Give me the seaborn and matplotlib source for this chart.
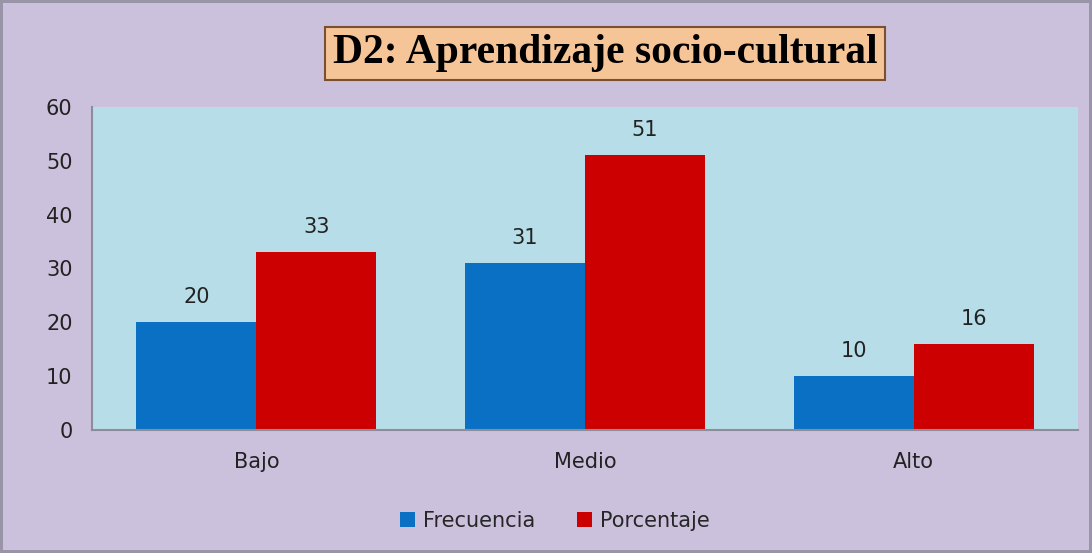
import pandas as pd
import matplotlib.pyplot as plt
import seaborn as sns

# Datos
niveles = ["Bajo", "Medio", "Alto"]
frecuencia = [20, 31, 10]
porcentaje = [33, 51, 16]
series = ["Frecuencia", "Porcentaje"]
ticks_y = [0, 10, 20, 30, 40, 50, 60]

df = pd.DataFrame({
    "Nivel": niveles * 2,
    "Serie": [series[0]] * 3 + [series[1]] * 3,
    "Valor": frecuencia + porcentaje,
})

sns.set_style("white")
plt.rcParams["font.family"] = ["DejaVu Sans"]

fig = plt.figure(figsize=(10.92, 5.53), dpi=100, facecolor="#CCC1DC")
fig.patch.set_edgecolor("#9A94A8")
fig.patch.set_linewidth(3)
ax = fig.add_axes([92 / 1092, 1 - 430 / 553, (1078 - 92) / 1092, (430 - 107) / 553])
ax.set_facecolor("#B7DEE8")

sns.barplot(
    data=df, x="Nivel", y="Valor", hue="Serie",
    palette={"Frecuencia": "#0A70C4", "Porcentaje": "#CC0000"},
    width=0.73, ax=ax, legend=True,
    edgecolor="none", linewidth=0, saturation=1,
)

for cont in ax.containers:
    ax.bar_label(cont, padding=11, fontsize=15, color="#222222")

ax.set_ylim(0, 60)
ax.set_yticks(ticks_y)
ax.set_xlabel("")
ax.set_ylabel("")
ax.tick_params(axis="both", labelsize=15, colors="#222222", length=0, pad=14)
ax.tick_params(axis="x", pad=16)
for s in ["top", "right"]:
    ax.spines[s].set_visible(False)
ax.spines["left"].set_color("#8C8C9C")
ax.spines["bottom"].set_color("#8C8C9C")
ax.spines["left"].set_linewidth(1.5)
ax.spines["bottom"].set_linewidth(1.5)

ax.legend(
    loc="center", bbox_to_anchor=(555 / 1092, 1 - 521 / 553),
    bbox_transform=fig.transFigure, ncol=2, frameon=False,
    fontsize=15, handlelength=0.7, handleheight=0.7, columnspacing=2.0,
    handletextpad=0.4,
)

fig.text(
    605 / 1092, 1 - 53 / 553, "D2: Aprendizaje socio-cultural",
    ha="center", va="center", fontsize=30, fontweight="bold",
    family=["Liberation Serif", "DejaVu Serif"], color="black",
    bbox=dict(boxstyle="square,pad=0.18", facecolor="#F6C597",
              edgecolor="#7A5030", linewidth=1.5),
)

fig.savefig("out.png", dpi=100, facecolor=fig.get_facecolor(),
            edgecolor=fig.patch.get_edgecolor())
